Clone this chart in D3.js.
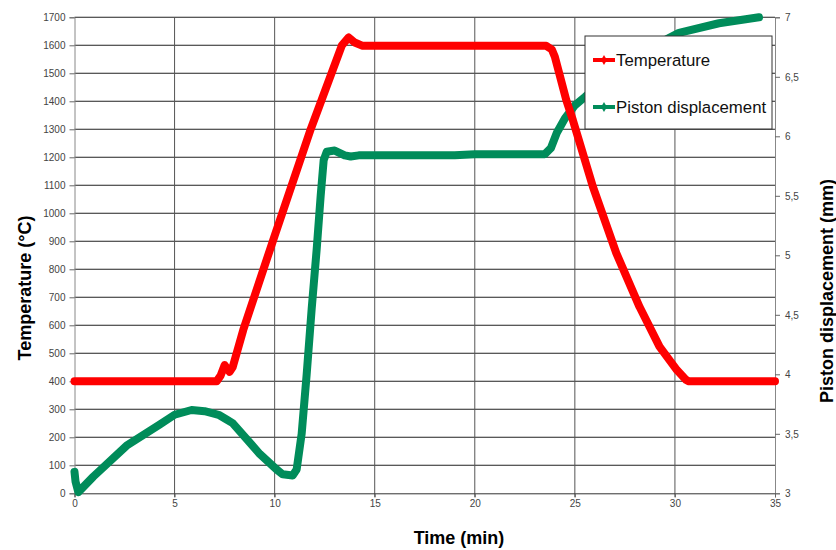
<!DOCTYPE html>
<html>
<head>
<meta charset="utf-8">
<script src="https://cdn.jsdelivr.net/npm/d3@7"></script>
<style>
body { margin: 0; background: #fff; }
svg { font-family: "Liberation Sans", Arial, sans-serif; }
</style>
</head>
<body>
<svg id="chart" width="836" height="550"></svg>
<script>
// time (min) / temperature (°C)
var tempTime = [0, 7.1, 7.3, 7.5, 7.75, 7.9, 8.1, 8.43, 10, 11.8, 13.36, 13.7, 14.0, 14.4, 23.57, 23.85, 24.0, 24.57, 24.9, 25.9, 27.07, 28.23, 29.23, 30.1, 30.56, 30.7, 35];
var tempVals = [400, 400, 420, 458, 434, 450, 500, 583, 920, 1300, 1600, 1628, 1610, 1598, 1598, 1585, 1559, 1405, 1333, 1095, 858, 666, 524, 440, 405, 400, 400];

// time (min) / piston displacement (mm)
var pistTime = [0, 0.05, 0.19, 0.94, 2.6, 4.27, 5, 5.85, 6.5, 7.2, 7.6, 7.9, 9.26, 10.1, 10.4, 10.9, 11.1, 11.35, 11.6, 11.85, 12.1, 12.3, 12.45, 12.6, 13.0, 13.5, 13.8, 14.2, 19, 20, 23.5, 23.8, 24.1, 24.5, 25.0, 25.5, 27.0, 28.5, 30.2, 32.2, 34.2];
var pistVals = [3.18, 3.10, 3.01, 3.14, 3.40, 3.58, 3.66, 3.70, 3.69, 3.66, 3.62, 3.59, 3.33, 3.20, 3.16, 3.15, 3.20, 3.50, 4.00, 4.55, 5.05, 5.50, 5.80, 5.87, 5.88, 5.84, 5.83, 5.84, 5.84, 5.85, 5.85, 5.90, 6.03, 6.15, 6.26, 6.33, 6.55, 6.72, 6.87, 6.95, 7.00];

var xTicks = [0, 5, 10, 15, 20, 25, 30, 35];
var yLeftTicks = d3.range(0, 1701, 100);
var yRightTicks = [3, 3.5, 4, 4.5, 5, 5.5, 6, 6.5, 7];

var seriesNames = ["Temperature", "Piston displacement"];
var seriesColors = ["#ff0000", "#008c5a"];

var svg = d3.select("#chart");
var plotL = 74.5, plotR = 775, plotT = 17.3, plotB = 493.3;

var x = d3.scaleLinear().domain([0, 35]).range([plotL, plotR]);
var yL = d3.scaleLinear().domain([0, 1700]).range([plotB, plotT]);
var yR = d3.scaleLinear().domain([3, 7]).range([plotB, plotT]);

// grid
svg.append("g").selectAll("line").data(yLeftTicks.slice(1)).enter().append("line")
	.attr("x1", plotL).attr("x2", plotR)
	.attr("y1", function (d) { return yL(d); })
	.attr("y2", function (d) { return yL(d); })
	.style("stroke", "#222").style("stroke-width", 1.1);

svg.append("g").selectAll("line").data(xTicks.slice(1, -1)).enter().append("line")
	.attr("x1", function (d) { return x(d); })
	.attr("x2", function (d) { return x(d); })
	.attr("y1", plotT).attr("y2", plotB + 4)
	.style("stroke", "#555").style("stroke-width", 1);

// axes
var gl = svg.append("g").attr("transform", "translate(" + plotL + ",0)")
	.call(d3.axisLeft(yL).tickValues(yLeftTicks).tickSize(5).tickPadding(4).tickFormat(d3.format("d")));
var gr = svg.append("g").attr("transform", "translate(" + plotR + ",0)")
	.call(d3.axisRight(yR).tickValues(yRightTicks).tickSize(5).tickPadding(5)
		.tickFormat(function (d) { return String(d).replace(".", ","); }));
var gb = svg.append("g").attr("transform", "translate(0," + plotB + ")")
	.call(d3.axisBottom(x).tickValues(xTicks).tickSize(4).tickPadding(3));

[gl, gr, gb].forEach(function (g) {
	g.select(".domain").style("stroke", "#888");
	g.selectAll(".tick line").style("stroke", "#666");
	g.selectAll("text").style("fill", "#444").style("font-size", "10px");
});
gb.select(".domain").style("stroke", "#333");

// series
var lineT = d3.line()
	.x(function (d, i) { return x(tempTime[i]); })
	.y(function (d) { return yL(d); });
var lineP = d3.line()
	.x(function (d, i) { return x(pistTime[i]); })
	.y(function (d) { return yR(d); });

svg.append("path").datum(pistVals).attr("d", lineP)
	.style("fill", "none").style("stroke", seriesColors[1])
	.style("stroke-width", 8).style("stroke-linejoin", "round").style("stroke-linecap", "round");
svg.append("path").datum(tempVals).attr("d", lineT)
	.style("fill", "none").style("stroke", seriesColors[0])
	.style("stroke-width", 8).style("stroke-linejoin", "round").style("stroke-linecap", "round");

// axis titles
svg.append("text").attr("transform", "translate(31,288) rotate(-90)")
	.attr("text-anchor", "middle").style("font-weight", "bold").style("font-size", "18px")
	.text("Temperature (°C)");
svg.append("text").attr("transform", "translate(833,291) rotate(-90)")
	.attr("text-anchor", "middle").style("font-weight", "bold").style("font-size", "18px")
	.text("Piston displacement (mm)");
svg.append("text").attr("x", 459).attr("y", 544)
	.attr("text-anchor", "middle").style("font-weight", "bold").style("font-size", "18px")
	.text("Time (min)");

// legend
var lg = svg.append("g").attr("transform", "translate(585,36)");
lg.append("rect").attr("width", 187).attr("height", 93)
	.style("fill", "#fff").style("stroke", "#333").style("stroke-width", 1);
seriesNames.forEach(function (name, i) {
	var yy = 24 + i * 47;
	lg.append("line").attr("x1", 8).attr("x2", 30).attr("y1", yy).attr("y2", yy)
		.style("stroke", seriesColors[i]).style("stroke-width", 4);
	lg.append("path").attr("d", d3.symbol().type(d3.symbolDiamond).size(30)())
		.attr("transform", "translate(19," + yy + ")")
		.style("fill", seriesColors[i]);
	lg.append("text").attr("x", 31).attr("y", yy + 6)
		.style("font-size", "16.8px").style("fill", "#111").text(name);
});
</script>
</body>
</html>
